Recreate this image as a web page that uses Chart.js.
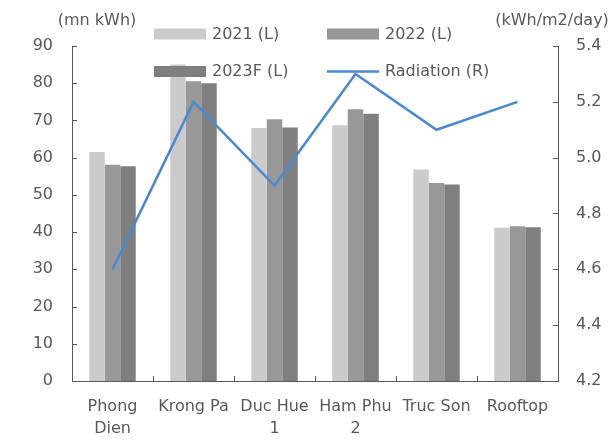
<!DOCTYPE html>
<html>
<head>
<meta charset="utf-8">
<script src="https://cdn.jsdelivr.net/npm/chart.js@4/dist/chart.umd.min.js"></script>
<style>
  html, body { margin: 0; padding: 0; background: #ffffff; }
  canvas { display: block; }
</style>
</head>
<body>
<canvas id="c" width="613" height="442"></canvas>
<script>
// Plants on the category axis
const plants = [["Phong", "Dien"], "Krong Pa", ["Duc Hue", "1"], ["Ham Phu", "2"], "Truc Son", "Rooftop"];

// Output per plant (mn kWh), left axis
const out2021 = [61.5, 85.0, 68.0, 68.7, 56.8, 41.2];
const out2022 = [58.1, 80.5, 70.3, 73.0, 53.2, 41.6];
const out2023F = [57.7, 80.0, 68.1, 71.8, 52.8, 41.3];

// Solar radiation (kWh/m2/day), right axis
const radiation = [4.6, 5.2, 4.9, 5.3, 5.1, 5.2];

// Axis titles and series names
const leftTitle = "(mn kWh)";
const rightTitle = "(kWh/m2/day)";
const seriesNames = ["2021 (L)", "2022 (L)", "2023F (L)", "Radiation (R)"];

const TEXT = "#595959";
const AXIS = "#595959";
const FONT = "DejaVu Sans";
const COLORS = ["#cbcbcb", "#989898", "#7f7f7f", "#4a89cf"];

// Inward tick marks, axis titles and the two-column legend
const decor = {
  id: "decor",
  afterDraw(chart) {
    const { ctx, chartArea: a, scales } = chart;
    ctx.save();
    ctx.strokeStyle = AXIS;
    ctx.lineWidth = 1;
    const seg = (x1, y1, x2, y2) => { ctx.beginPath(); ctx.moveTo(x1, y1); ctx.lineTo(x2, y2); ctx.stroke(); };
    scales.y.ticks.forEach(t => {
      const py = Math.round(scales.y.getPixelForValue(t.value)) + 0.5;
      seg(a.left, py, a.left + 5, py);
    });
    scales.y1.ticks.forEach(t => {
      const py = Math.round(scales.y1.getPixelForValue(t.value)) + 0.5;
      seg(a.right - 5, py, a.right, py);
    });
    const half = (scales.x.getPixelForValue(1) - scales.x.getPixelForValue(0)) / 2;
    for (let i = 0; i <= plants.length; i++) {
      const px = Math.round(scales.x.getPixelForValue(i) - half) + 0.5;
      seg(px, a.bottom, px, a.bottom - 5);
    }

    ctx.fillStyle = TEXT;
    ctx.font = "16px '" + FONT + "'";
    ctx.textBaseline = "middle";
    ctx.textAlign = "center";
    ctx.fillText(leftTitle, 97, 21);
    ctx.fillText(rightTitle, 552, 21);

    // legend
    const spots = [[154, 34], [327, 34], [154, 71.5], [327, 71.5]];
    ctx.textAlign = "left";
    seriesNames.forEach((name, i) => {
      const [x, y] = spots[i];
      if (i < 3) {
        ctx.fillStyle = COLORS[i];
        ctx.fillRect(x, y - 5.5, 52, 11);
      } else {
        ctx.strokeStyle = COLORS[3];
        ctx.lineWidth = 2.5;
        seg(x, y, x + 52, y);
      }
      ctx.fillStyle = TEXT;
      ctx.fillText(name, x + 58, y + 0.5);
    });
    ctx.restore();
  }
};

new Chart(document.getElementById("c"), {
  data: {
    labels: plants,
    datasets: [
      { type: "line", label: seriesNames[3], data: radiation, yAxisID: "y1", order: 0,
        borderColor: COLORS[3], borderWidth: 2.5, pointRadius: 0, tension: 0, fill: false },
      { type: "bar", label: seriesNames[0], data: out2021, yAxisID: "y", order: 1, backgroundColor: COLORS[0] },
      { type: "bar", label: seriesNames[1], data: out2022, yAxisID: "y", order: 1, backgroundColor: COLORS[1] },
      { type: "bar", label: seriesNames[2], data: out2023F, yAxisID: "y", order: 1, backgroundColor: COLORS[2] }
    ]
  },
  options: {
    responsive: false,
    devicePixelRatio: 1,
    animation: false,
    layout: { padding: { top: 46, left: 0, right: 0, bottom: 0 } },
    datasets: { bar: { categoryPercentage: 0.574, barPercentage: 1.0 } },
    plugins: { legend: { display: false }, tooltip: { enabled: false } },
    scales: {
      x: {
        grid: { display: false, drawTicks: false },
        border: { display: true, color: AXIS, width: 1 },
        ticks: { color: TEXT, font: { family: FONT, size: 16, lineHeight: 1.35 }, padding: 15, maxRotation: 0, autoSkip: false },
        afterFit: s => { s.height = 61; }
      },
      y: {
        position: "left", min: 0, max: 90,
        grid: { display: false, drawTicks: false },
        border: { display: true, color: AXIS, width: 1 },
        ticks: { stepSize: 10, color: TEXT, font: { family: FONT, size: 16 }, padding: 19 },
        afterFit: s => { s.width = 72; }
      },
      y1: {
        position: "right", min: 4.2, max: 5.4,
        grid: { display: false, drawTicks: false },
        border: { display: true, color: AXIS, width: 1 },
        ticks: { stepSize: 0.2, color: TEXT, font: { family: FONT, size: 16 }, padding: 18,
          callback: v => Number(v).toFixed(1) },
        afterFit: s => { s.width = 55; }
      }
    }
  },
  plugins: [decor]
});
</script>
</body>
</html>
